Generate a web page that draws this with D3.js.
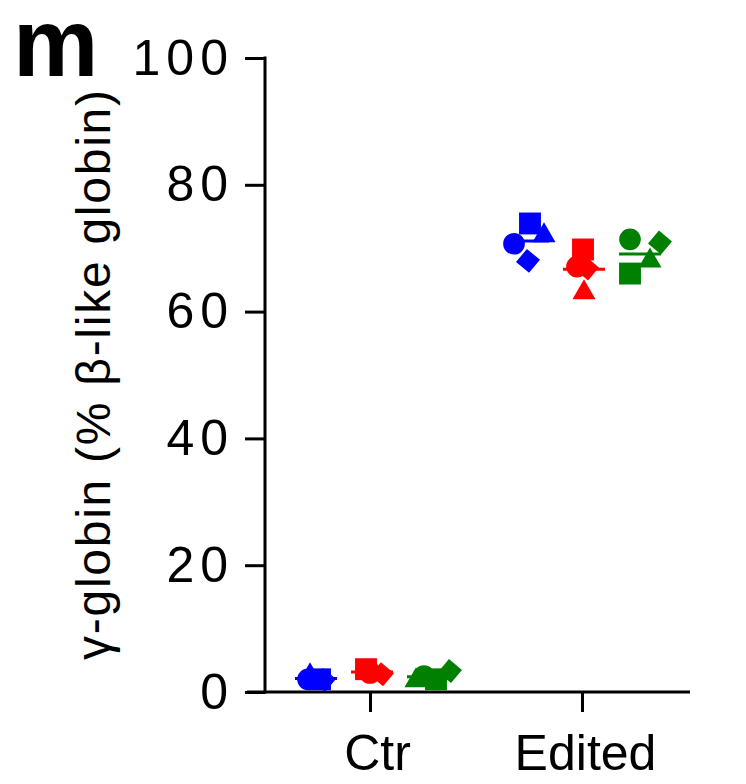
<!DOCTYPE html>
<html>
<head>
<meta charset="utf-8">
<script src="https://cdn.jsdelivr.net/npm/d3@7"></script>
<style>
  html, body { margin: 0; padding: 0; background: #fff; }
  svg { display: block; }
  text { font-family: "Liberation Sans", Arial, sans-serif; fill: #000; }
</style>
</head>
<body>
<svg id="chart" width="746" height="784"></svg>
<script>
// ---------------- data ----------------
const categories = ["Ctr", "Edited"];
const donors = ["Donor 1", "Donor 2", "Donor 3"];
const donorColors = ["#0000ff", "#ff0000", "#008000"];
const shapes = ["circle", "square", "triangle", "diamond"];
const yTicks = [0, 20, 40, 60, 80, 100];

// values in shape order: circle, square, triangle, diamond
const ctrDonor1 = [2.0, 2.0, 2.6, 1.9];
const ctrDonor2 = [3.0, 3.6, 3.2, 2.8];
const ctrDonor3 = [2.5, 2.0, 1.8, 3.3];
const editedDonor1 = [70.7, 73.9, 72.0, 68.0];
const editedDonor2 = [67.1, 69.8, 63.0, 66.8];
const editedDonor3 = [71.4, 66.0, 68.0, 70.9];

// ---------------- layout (presentation only) ----------------
const jitter = {
  Ctr:    [[-8, 4, -6, 8], [-2, -6, 2, 10], [-4, 8, -12, 22]],
  Edited: [[-14, 2, 16, 0], [-7, -1, 0, 3], [-10, -10, 10, 20]]
};
const values = {
  Ctr: [ctrDonor1, ctrDonor2, ctrDonor3],
  Edited: [editedDonor1, editedDonor2, editedDonor3]
};

const svg = d3.select("#chart");
const y = d3.scaleLinear().domain([0, 100]).range([692, 58]);
const x = d3.scalePoint().domain(categories).range([370, 582]);
const xSub = d3.scalePoint().domain(donors).range([-54, 58]);

// panel letter
svg.append("text").attr("x", 13).attr("y", 76)
  .attr("font-size", 96).attr("font-weight", "bold").text("m");

// y axis
const yAxis = svg.append("g").attr("transform", "translate(265,0)")
  .call(d3.axisLeft(y).tickValues(yTicks).tickSize(20).tickPadding(11)
    .tickFormat(d3.format("d")));
yAxis.select(".domain").remove();
yAxis.selectAll(".tick line").attr("stroke", "#000").attr("stroke-width", 3);
yAxis.selectAll(".tick text")
  .attr("font-size", 50).attr("letter-spacing", "6px")
  .attr("font-family", "'Liberation Sans', Arial, sans-serif").attr("fill", "#000");
svg.append("line").attr("x1", 265).attr("x2", 265)
  .attr("y1", y(100) - 1.5).attr("y2", y(0) + 1.5)
  .attr("stroke", "#000").attr("stroke-width", 3);

// x axis
svg.append("line").attr("x1", 247).attr("x2", 690)
  .attr("y1", y(0)).attr("y2", y(0))
  .attr("stroke", "#000").attr("stroke-width", 3);
const xAxis = svg.append("g").attr("transform", `translate(0,${y(0)})`)
  .call(d3.axisBottom(x).tickSize(20).tickPadding(22));
xAxis.select(".domain").remove();
xAxis.selectAll(".tick line").attr("stroke", "#000").attr("stroke-width", 3);
xAxis.selectAll(".tick text")
  .attr("font-size", 50).attr("dy", "0.72em")
  .attr("font-family", "'Liberation Sans', Arial, sans-serif").attr("fill", "#000");
xAxis.selectAll(".tick text").attr("transform", (d, i) => `translate(${i === 0 ? 7 : 3},0)`);

// y title
svg.append("text")
  .attr("transform", "translate(110,375) rotate(-90)")
  .attr("text-anchor", "middle")
  .attr("font-size", 48)
  .attr("textLength", 570).attr("lengthAdjust", "spacing")
  .text("γ-globin (% β-like globin)");

// points
const symType = {
  circle: d3.symbolCircle, square: d3.symbolSquare,
  triangle: d3.symbolTriangle, diamond: d3.symbolSquare
};
const symSize = { circle: 370, square: 480, triangle: 230, diamond: 290 };
const symRot = { circle: 0, square: 0, triangle: 0, diamond: 40 };

categories.forEach(cat => {
  donors.forEach((donor, di) => {
    const cx = x(cat) + xSub(donor);
    const vals = values[cat][di];
    const g = svg.append("g").attr("fill", donorColors[di]);
    vals.forEach((v, si) => {
      const s = shapes[si];
      g.append("path")
        .attr("d", d3.symbol().type(symType[s]).size(symSize[s])())
        .attr("transform", `translate(${cx + jitter[cat][di][si]},${y(v)}) rotate(${symRot[s]})`);
    });
    const m = d3.mean(vals);
    svg.append("line")
      .attr("x1", cx - 21).attr("x2", cx + 21)
      .attr("y1", y(m)).attr("y2", y(m))
      .attr("stroke", donorColors[di]).attr("stroke-width", 3);
  });
});
</script>
</body>
</html>
